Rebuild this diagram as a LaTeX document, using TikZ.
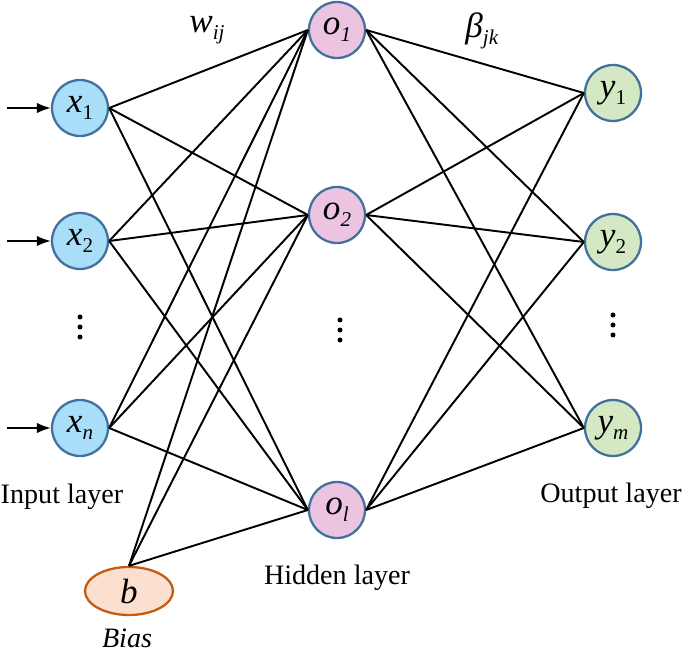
\documentclass[tikz,border=0pt]{standalone}
\usepackage{fontspec}
\setmainfont{Liberation Serif}
\usetikzlibrary{arrows.meta,shapes.geometric}
\definecolor{xblue}{RGB}{169,222,249}
\definecolor{opink}{RGB}{236,196,226}
\definecolor{ygreen}{RGB}{213,232,196}
\definecolor{bpeach}{RGB}{251,224,207}
\definecolor{rimblue}{RGB}{65,113,156}
\definecolor{rimorange}{RGB}{197,90,17}
\newcommand{\lo}[1]{\raisebox{-0.45ex}{\fontsize{12}{13}\selectfont #1}}

\begin{document}
\begin{tikzpicture}[
  neuron/.style={shape=circle,draw=rimblue,line width=1.3pt,minimum size=1.12cm,inner sep=0pt,font=\fontsize{20}{22}\selectfont},
  inode/.style={neuron,fill=xblue},
  hnode/.style={neuron,fill=opink},
  onode/.style={neuron,fill=ygreen},
  layer/.style={font=\fontsize{16}{19}\selectfont},
  wire/.style={line width=1.1pt}
]
\useasboundingbox (0,0) rectangle (13.7,-13.02);

% input layer
\node[inode](X1) at (1.6,-2.16){\textit{x}\lo{1}};
\node[inode](X2) at (1.6,-4.82){\textit{x}\lo{2}};
\node[inode](XN) at (1.6,-8.56){\textit{x}\lo{\textit{n}}};
\foreach \k in {-0.2,0,0.2} \fill (1.6,-6.54+\k) circle (0.05);
\node[layer](LI) at (1.24,-9.94){Input layer};

\coordinate (A1) at (0.14,-2.16);
\coordinate (A2) at (0.14,-4.82);
\coordinate (AN) at (0.14,-8.56);
\draw[wire,-{Latex[length=8pt,width=6pt]}] (A1) -- (X1);
\draw[wire,-{Latex[length=8pt,width=6pt]}] (A2) -- (X2);
\draw[wire,-{Latex[length=8pt,width=6pt]}] (AN) -- (XN);

% hidden layer
\node[hnode](O1) at (6.74,-0.6){\textit{o}\lo{\textit{1}}};
\node[hnode](O2) at (6.74,-4.3){\textit{o}\lo{\textit{2}}};
\node[hnode](OL) at (6.74,-10.2){\textit{o}\lo{\textit{l}}};
\foreach \k in {-0.2,0,0.2} \fill (6.8,-6.6+\k) circle (0.05);
\node[layer](LH) at (6.74,-11.56){Hidden layer};

% output layer
\node[onode](Y1) at (12.26,-1.86){\textit{y}\lo{1}};
\node[onode](Y2) at (12.26,-4.84){\textit{y}\lo{2}};
\node[onode](YM) at (12.26,-8.56){\textit{y}\lo{\textit{m}}};
\foreach \k in {-0.2,0,0.2} \fill (12.26,-6.5+\k) circle (0.05);
\node[layer](LO) at (12.22,-9.92){Output layer};

% bias
\node[shape=ellipse,draw=rimorange,fill=bpeach,line width=1.3pt,minimum width=1.76cm,minimum height=0.96cm,inner sep=0pt,font=\fontsize{20}{22}\selectfont](B) at (2.58,-11.82){\textit{b}};
\node[layer](LB) at (2.54,-12.76){\textit{Bias}};

% weights
\node[font=\fontsize{20}{22}\selectfont](W) at (4.14,-0.6){\textit{w}\lo{\textit{ij}}};
\node[font=\fontsize{20}{22}\selectfont](BT) at (9.64,-0.62){\textit{β}\lo{\textit{jk}}};

\draw[wire] (X1.east) -- (O1.west);
\draw[wire] (X1.east) -- (O2.west);
\draw[wire] (X1.east) -- (OL.west);
\draw[wire] (X2.east) -- (O1.west);
\draw[wire] (X2.east) -- (O2.west);
\draw[wire] (X2.east) -- (OL.west);
\draw[wire] (XN.east) -- (O1.west);
\draw[wire] (XN.east) -- (O2.west);
\draw[wire] (XN.east) -- (OL.west);

\draw[wire] (B.north) -- (O1.west);
\draw[wire] (B.north) -- (O2.west);
\draw[wire] (B.north) -- (OL.west);

\draw[wire] (O1.east) -- (Y1.west);
\draw[wire] (O1.east) -- (Y2.west);
\draw[wire] (O1.east) -- (YM.west);
\draw[wire] (O2.east) -- (Y1.west);
\draw[wire] (O2.east) -- (Y2.west);
\draw[wire] (O2.east) -- (YM.west);
\draw[wire] (OL.east) -- (Y1.west);
\draw[wire] (OL.east) -- (Y2.west);
\draw[wire] (OL.east) -- (YM.west);
\end{tikzpicture}
\end{document}
